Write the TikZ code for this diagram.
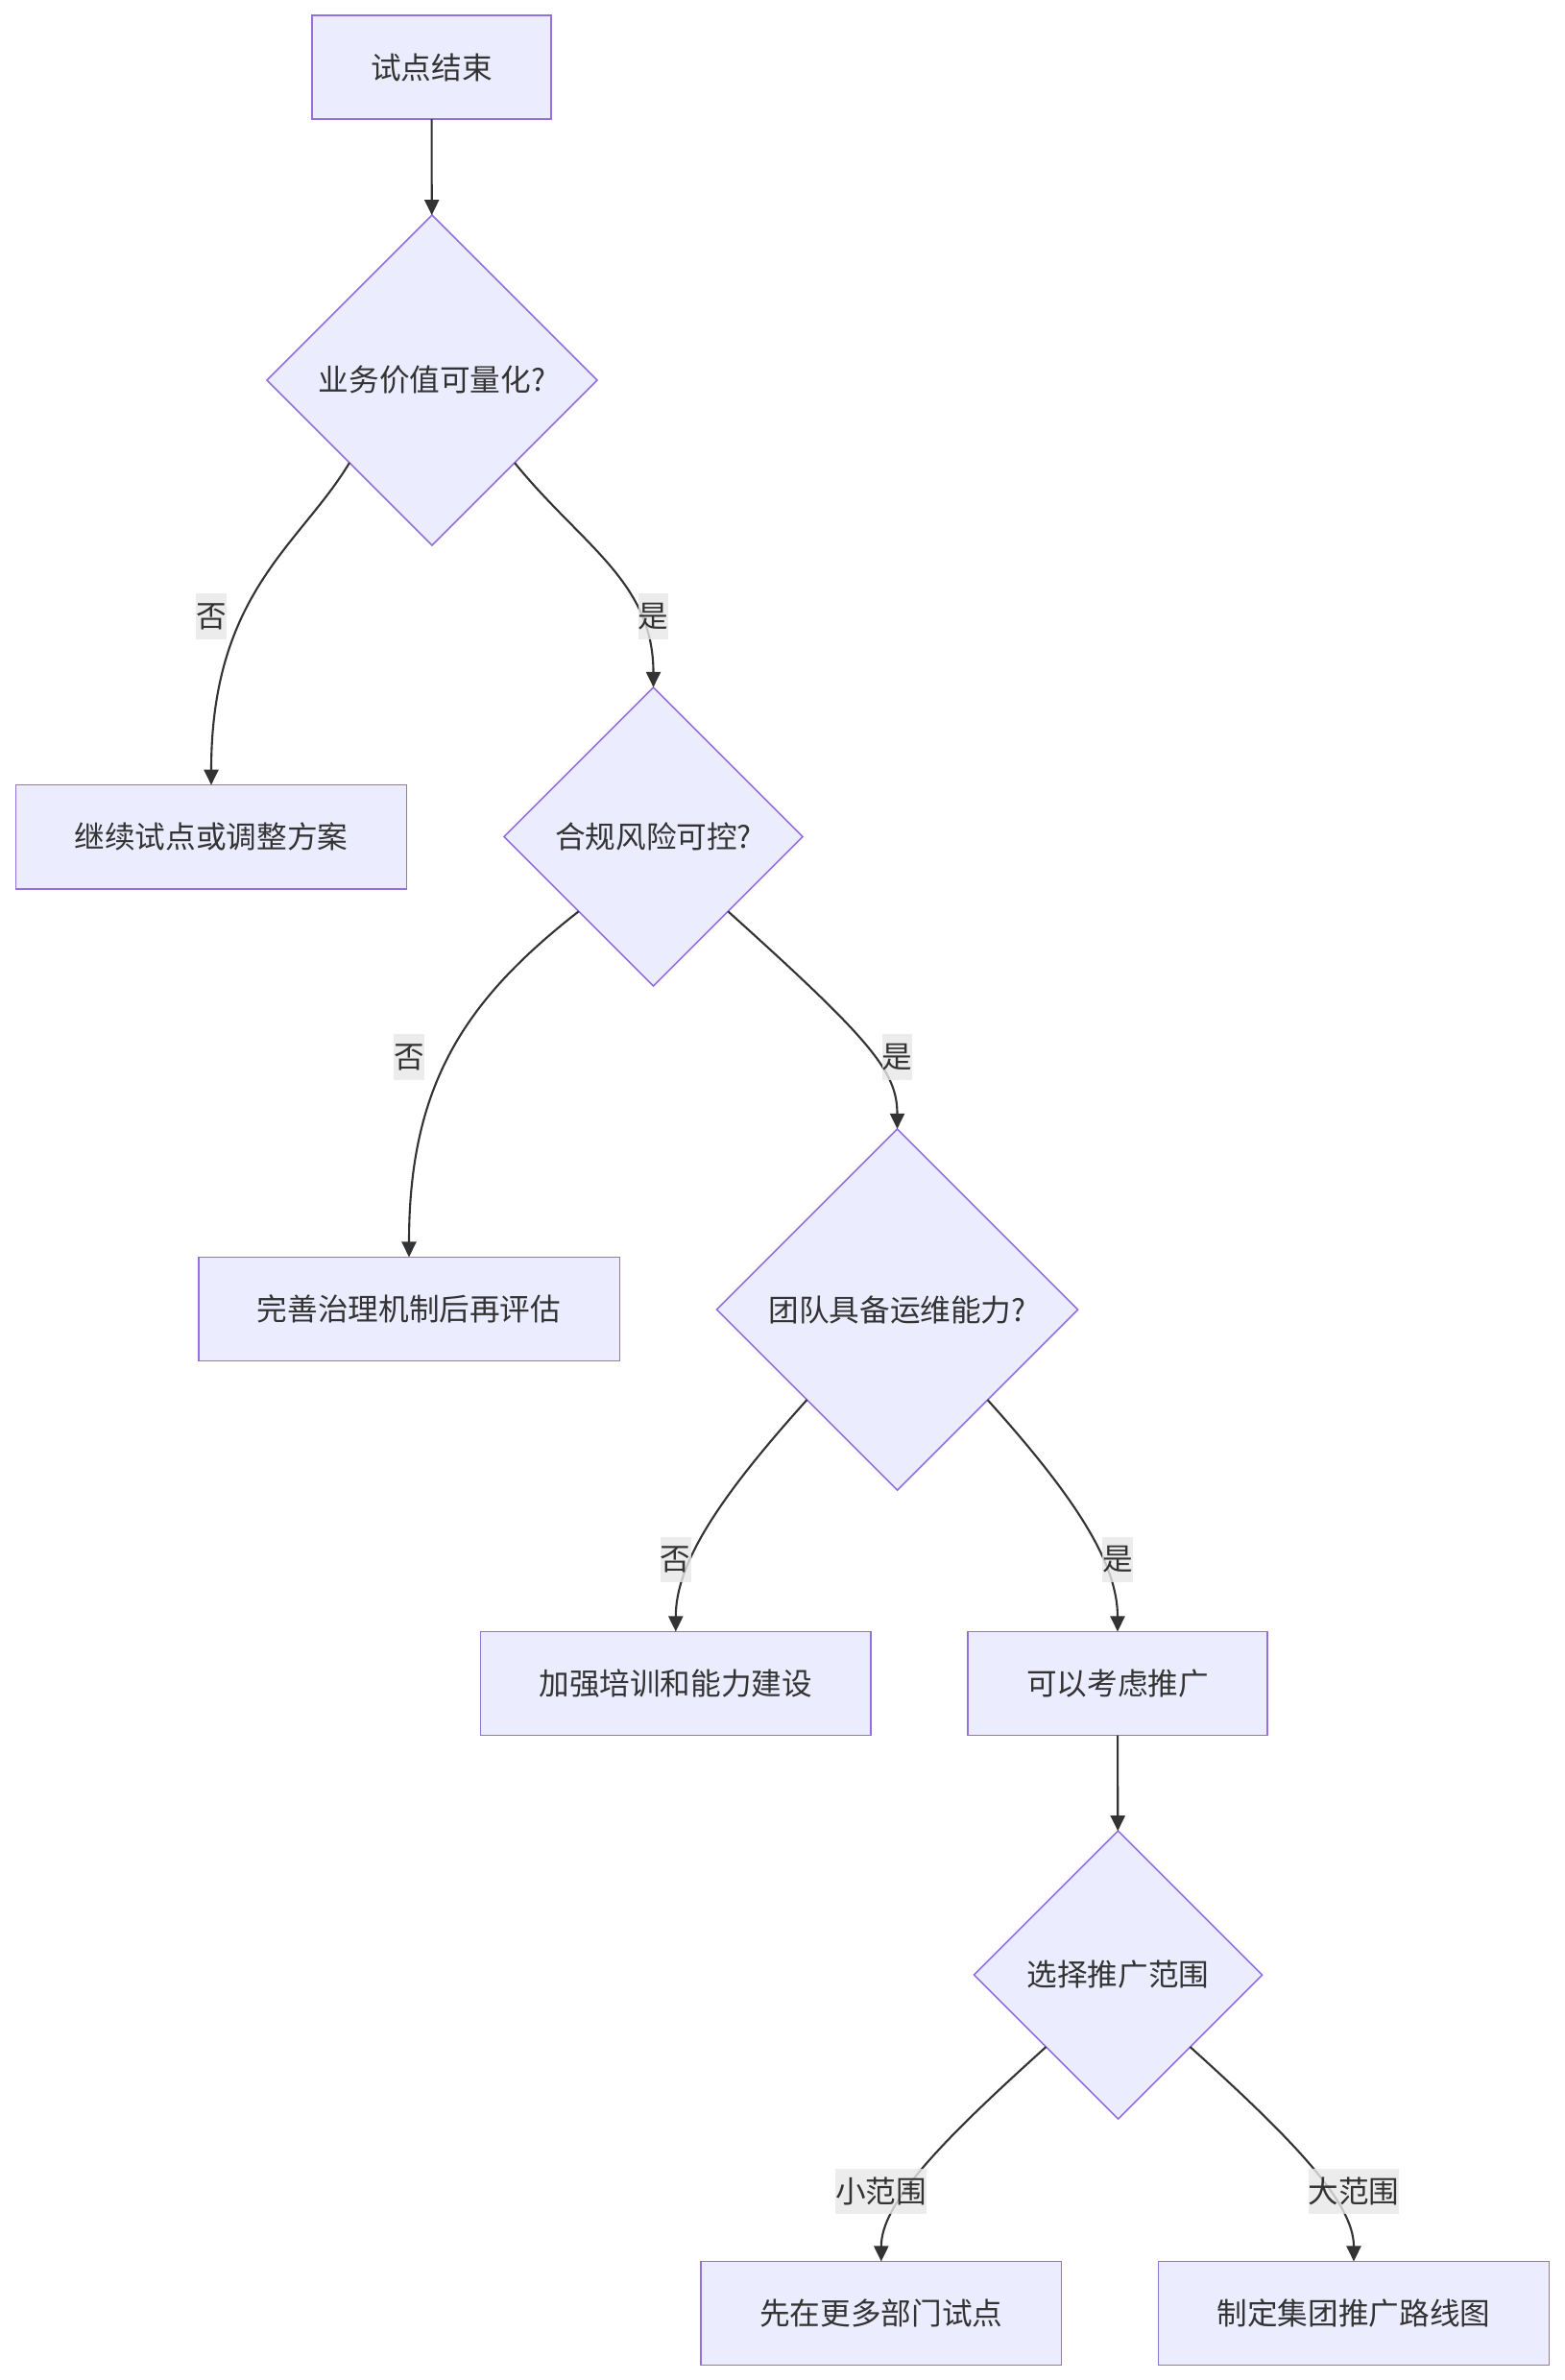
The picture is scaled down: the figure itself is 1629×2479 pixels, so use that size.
\documentclass[tikz,border=0pt]{standalone}
\usepackage{fontspec}
\setmainfont{Noto Sans CJK SC}
\usetikzlibrary{shapes.geometric,arrows.meta}
\definecolor{nodefill}{HTML}{ECECFF}
\definecolor{nodeline}{HTML}{9370DB}
\definecolor{inkgray}{HTML}{333333}
\definecolor{lblfill}{HTML}{E8E8E8}
\begin{document}
\begin{tikzpicture}[x=0.01cm, y=-0.01cm,
    every node/.style={font=\fontsize{9pt}{11pt}\selectfont, text=inkgray},
    proc/.style={rectangle, draw=nodeline, fill=nodefill, line width=0.45pt, minimum height=1.08cm, inner xsep=0.61cm, inner ysep=0pt, outer sep=0pt},
    decide/.style={diamond, draw=nodeline, fill=nodefill, line width=0.45pt, inner sep=0pt, outer sep=0pt, aspect=1},
    flow/.style={draw=inkgray, line width=0.6pt, -{Triangle[length=1.6mm, width=1.5mm]}},
    answer/.style={fill=lblfill, fill opacity=0.8, text opacity=1, inner xsep=0pt, inner ysep=0pt, minimum height=0.47cm}
  ]
    \path[use as bounding box, fill=white] (0,0) rectangle (1629,2479);

    \node[proc] (start) at (449.5,70) {试点结束};
    \node[decide, minimum size=3.44cm] (d1) at (450,396) {业务价值可量化?};
    \node[proc] (cont) at (220,871.7) {继续试点或调整方案};
    \node[decide, minimum size=3.11cm] (d2) at (680.5,871.5) {合规风险可控?};
    \node[proc] (gov) at (426,1363.5) {完善治理机制后再评估};
    \node[decide, minimum size=3.76cm] (d3) at (934.5,1364) {团队具备运维能力?};
    \node[proc] (train) at (703.8,1753.5) {加强培训和能力建设};
    \node[proc] (promo) at (1164,1753.5) {可以考虑推广};
    \node[decide, minimum size=3.0cm] (d4) at (1164.5,2057) {选择推广范围};
    \node[proc] (pilot) at (917.8,2409.5) {先在更多部门试点};
    \node[proc] (road) at (1410,2409.5) {制定集团推广路线图};

    \draw[flow] (start) -- (d1);
    \draw[flow] (promo) -- (d4);
    \foreach \a/\b/\o/\od/\id in {d1.south west/cont/-121/1.0/2.0, d1.south east/d2/-51/1.1/1.1,
        d2.south west/gov/-142/1.5/1.8, d2.south east/d3/-42/2.0/0.6,
        d3.south west/train/-132/1.4/0.7, d3.south east/promo/-48/1.4/0.7,
        d4.south west/pilot/-138/1.5/0.6, d4.south east/road/-42/1.5/0.6} {
      \draw[flow] (\a) to[out=\o, in=90, out distance=\od cm, in distance=\id cm] (\b.north);
    }

    \node[answer] (no1) at (220,642) {否};
    \node[answer] (yes1) at (680.5,642) {是};
    \node[answer] (no2) at (426,1101) {否};
    \node[answer] (yes2) at (934.5,1101) {是};
    \node[answer] (no3) at (703.8,1624) {否};
    \node[answer] (yes3) at (1164,1624) {是};
    \node[answer] (small) at (917.8,2282) {小范围};
    \node[answer] (large) at (1410,2282) {大范围};
  \end{tikzpicture}
\end{document}
